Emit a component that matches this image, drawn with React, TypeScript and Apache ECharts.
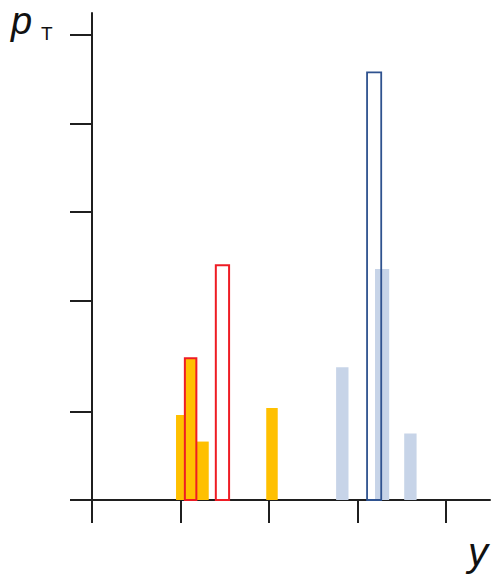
import React, { useEffect, useRef } from "react";
import * as echarts from "echarts";

// Each bar: [xStart, xEnd, height] in axis units
const orangeBars: number[][] = [
  [0.95, 1.09, 0.96],
  [1.05, 1.18, 1.6],
  [1.18, 1.32, 0.66],
  [1.97, 2.1, 1.04],
];
const redOutlineBars: number[][] = [
  [1.05, 1.18, 1.6],
  [1.4, 1.55, 2.65],
];
const lightBlueBars: number[][] = [
  [2.76, 2.9, 1.5],
  [3.2, 3.36, 2.61],
  [3.53, 3.67, 0.75],
];
const blueOutlineBars: number[][] = [[3.11, 3.27, 4.83]];

const xTicks = [0, 1, 2, 3, 4];
const yTicks = [0, 1, 2.25, 3.25, 4.25, 5.25];

const AXIS_COLOR = "#1f1f1f";

function barSeries(name: string, data: number[][], fill: string, stroke: string, lineWidth: number, z: number) {
  return {
    name,
    type: "custom",
    z,
    data,
    encode: { x: [0, 1], y: 2 },
    renderItem: (_params: any, api: any) => {
      const p0 = api.coord([api.value(0), 0]);
      const p1 = api.coord([api.value(1), api.value(2)]);
      return {
        type: "rect",
        shape: { x: p0[0], y: p1[1], width: p1[0] - p0[0], height: p0[1] - p1[1] },
        style: { fill, stroke, lineWidth },
      };
    },
  };
}

export default function App() {
  const ref = useRef<HTMLDivElement>(null);
  useEffect(() => {
    document.body.style.margin = "0";
    const chart = echarts.init(ref.current!, undefined, { renderer: "svg" });
    chart.setOption({
      animation: false,
      backgroundColor: "#ffffff",
      grid: { left: 92, right: 1, top: 13, bottom: 74 },
      xAxis: {
        type: "value", min: 0, max: 4.5,
        axisLine: { show: true, onZero: false, lineStyle: { color: AXIS_COLOR, width: 2 } },
        axisTick: { show: true, length: 23, customValues: xTicks, lineStyle: { color: AXIS_COLOR, width: 2 } },
        axisLabel: { show: false }, splitLine: { show: false },
      },
      yAxis: {
        type: "value", min: 0, max: 5.5,
        axisLine: { show: true, onZero: false, lineStyle: { color: AXIS_COLOR, width: 2 } },
        axisTick: { show: true, length: 22, customValues: yTicks, lineStyle: { color: AXIS_COLOR, width: 2 } },
        axisLabel: { show: false }, splitLine: { show: false },
      },
      graphic: [
        {
          type: "text", x: 11, y: 21,
          style: { text: "p", font: "italic 38px 'Liberation Sans'", fill: "#111", align: "left", verticalAlign: "middle" },
        },
        {
          type: "text", x: 41, y: 33,
          style: { text: "T", font: "19px 'Liberation Sans'", fill: "#111", align: "left", verticalAlign: "middle" },
        },
        {
          type: "text", x: 468, y: 552,
          style: { text: "y", font: "italic 40px 'Liberation Sans'", fill: "#111", align: "left", verticalAlign: "middle" },
        },
      ],
      series: [
        barSeries("orange", orangeBars, "#FFC000", "none", 0, 1),
        barSeries("lightblue", lightBlueBars, "#C7D4E8", "none", 0, 2),
        barSeries("red", redOutlineBars, "transparent", "#EE1C24", 2, 3),
        barSeries("blue", blueOutlineBars, "transparent", "#2F528F", 1.8, 4),
      ],
    });
    return () => chart.dispose();
  }, []);
  return <div ref={ref} style={{ width: 491, height: 574 }} />;
}
